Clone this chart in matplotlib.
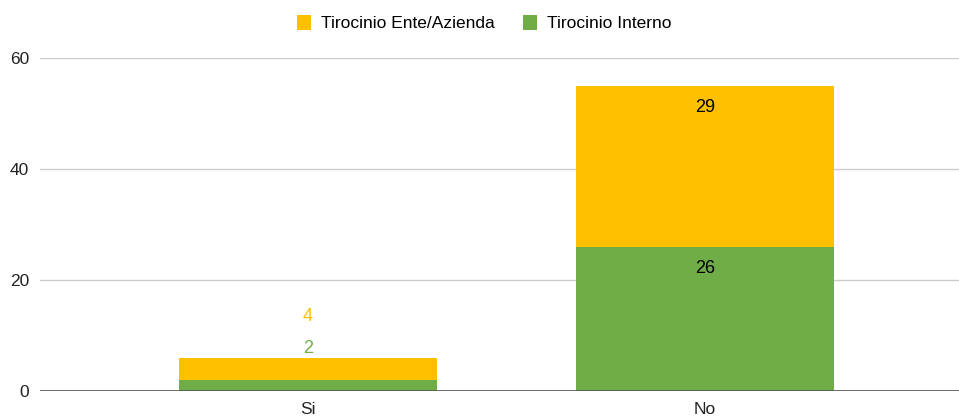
import matplotlib
matplotlib.use("Agg")
from matplotlib import pyplot as plt

# data
categories = ['Si', 'No']
interno = [2, 26]
ente = [4, 29]
series_names = ['Tirocinio Ente/Azienda', 'Tirocinio Interno']
yellow = '#FFC000'
green = '#70AD47'

plt.rcParams['font.family'] = ['Liberation Sans', 'DejaVu Sans']

fig = plt.figure(figsize=(9.59, 4.16), dpi=100)
ax = fig.add_axes([0.0417, 0.06, 0.9583, 0.8006])

x = list(range(len(categories)))
width = 0.65
b1 = ax.bar(x, interno, width, color=green, label=series_names[1], zorder=3)
b2 = ax.bar(x, ente, width, bottom=interno, color=yellow, label=series_names[0], zorder=3)

# value labels: small bar gets labels above, big bar labels inside
for i in x:
    total = interno[i] + ente[i]
    if total < 10:
        ax.annotate(str(interno[i]), (i, total), xytext=(0, 7), textcoords='offset points',
                    ha='center', va='center', color=green, fontsize=13)
        ax.annotate(str(ente[i]), (i, total), xytext=(0, 30), textcoords='offset points',
                    ha='center', va='center', color=yellow, fontsize=13)
    else:
        ax.annotate(str(interno[i]), (i, interno[i]), xytext=(0, -15.5), textcoords='offset points',
                    ha='center', va='center', color='black', fontsize=13)
        ax.annotate(str(ente[i]), (i, total), xytext=(0, -15.5), textcoords='offset points',
                    ha='center', va='center', color='black', fontsize=13)

ax.set_xlim(-0.675, 1.64)
ax.set_ylim(0, 60)
ax.set_yticks([0, 20, 40, 60])
ax.set_xticks(x)
ax.set_xticklabels(categories)
ax.yaxis.grid(True, color='#cccccc', linewidth=1, zorder=0)
ax.axhline(0, color='#555555', linewidth=1.2, zorder=4)
for s in ax.spines.values():
    s.set_visible(False)
ax.tick_params(axis='both', length=0, labelsize=12.5, colors='#222222')
ax.tick_params(axis='y', pad=8)
ax.tick_params(axis='x', pad=8)

handles, labels = ax.get_legend_handles_labels()
fig.legend(handles[::-1], labels[::-1], loc='center', bbox_to_anchor=(0.505, 0.945), ncol=2,
           frameon=False, fontsize=12.5, handlelength=0.8, handleheight=1.0,
           handletextpad=0.6, columnspacing=1.6)

fig.savefig('out.png', dpi=100)
